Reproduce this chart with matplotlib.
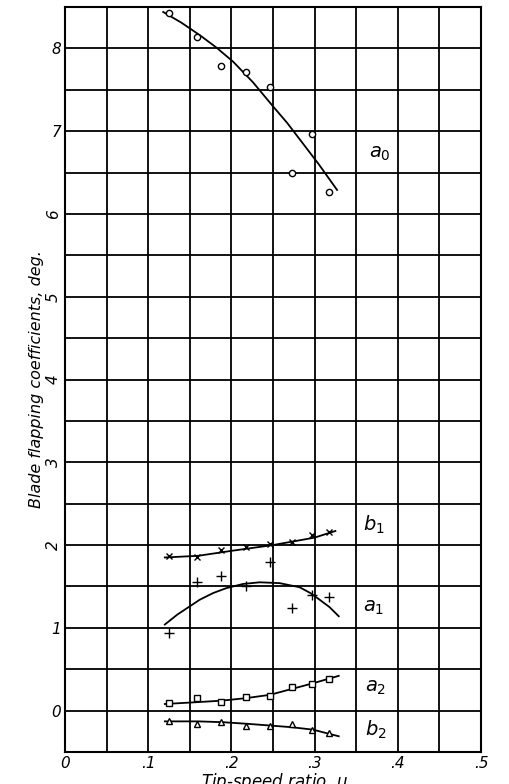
import matplotlib
matplotlib.use("Agg")
import matplotlib.pyplot as plt
import numpy as np

# Tip-speed ratio of test points
mu = [0.125, 0.159, 0.188, 0.217, 0.246, 0.273, 0.297, 0.317]

# Measured coefficients (deg)
a0_pts = [8.43, 8.14, 7.79, 7.71, 7.53, 6.50, 6.97, 6.27]
b1_pts = [1.87, 1.85, 1.94, 1.98, 2.01, 2.04, 2.12, 2.16]
a1_pts = [0.94, 1.55, 1.63, 1.50, 1.79, 1.24, 1.40, 1.37]
a2_pts = [0.09, 0.15, 0.11, 0.16, 0.18, 0.28, 0.32, 0.38]
b2_pts = [-0.13, -0.16, -0.14, -0.18, -0.18, -0.16, -0.24, -0.27]

# Faired curves
a0_cx = [0.118, 0.140, 0.162, 0.182, 0.202, 0.226, 0.250, 0.267, 0.283, 0.305, 0.327]
a0_cy = [8.44, 8.31, 8.16, 8.01, 7.84, 7.59, 7.30, 7.10, 6.89, 6.60, 6.29]
b1_cx = [0.120, 0.160, 0.200, 0.250, 0.300, 0.325]
b1_cy = [1.85, 1.87, 1.93, 2.00, 2.09, 2.17]
a1_cx = [0.120, 0.135, 0.150, 0.162, 0.178, 0.194, 0.214, 0.234, 0.258, 0.282, 0.295, 0.306, 0.318, 0.329]
a1_cy = [1.04, 1.16, 1.26, 1.34, 1.42, 1.48, 1.53, 1.55, 1.54, 1.49, 1.42, 1.34, 1.25, 1.14]
a2_cx = [0.120, 0.155, 0.188, 0.217, 0.246, 0.272, 0.298, 0.329]
a2_cy = [0.08, 0.10, 0.12, 0.15, 0.19, 0.26, 0.33, 0.42]
b2_cx = [0.120, 0.160, 0.190, 0.220, 0.246, 0.272, 0.298, 0.329]
b2_cy = [-0.13, -0.13, -0.14, -0.16, -0.18, -0.20, -0.23, -0.31]

x_ticks = [0, 0.1, 0.2, 0.3, 0.4, 0.5]
x_ticklabels = ["0", ".1", ".2", ".3", ".4", ".5"]
y_ticks = [0, 1, 2, 3, 4, 5, 6, 7, 8]

plt.rcParams['font.family'] = ['DejaVu Sans']

fig = plt.figure(figsize=(5.09, 7.84), dpi=100)
ax = fig.add_axes([65/509, 1-752/784, (481-65)/509, (752-7)/784])
ax.set_xlim(0, 0.5)
ax.set_ylim(-0.5, 8.5)

# grid
ax.set_xticks(np.arange(0.05, 0.5, 0.1), minor=True)
ax.set_yticks(np.arange(-0.5, 8.5001, 1.0), minor=True)
ax.set_xticks(x_ticks)
ax.set_xticklabels(x_ticklabels, fontstyle='italic', fontsize=11)
ax.set_yticks(y_ticks)
ax.set_yticklabels([str(v) for v in y_ticks], fontstyle='italic', fontsize=11)
ax.grid(True, which='both', color='black', linewidth=1.3)
for lab, v in zip(ax.get_yticklabels(), y_ticks):
    if 2 <= v <= 6:
        lab.set_rotation(90)
        lab.set_va('center')
ax.tick_params(which='both', length=0)
ax.tick_params(axis='y', pad=3)
ax.tick_params(axis='x', pad=3)
for s in ax.spines.values():
    s.set_linewidth(1.5)

lw = 1.3
ax.plot(a0_cx, a0_cy, color='black', lw=lw)
ax.plot(b1_cx, b1_cy, color='black', lw=lw)
ax.plot(a1_cx, a1_cy, color='black', lw=lw)
ax.plot(a2_cx, a2_cy, color='black', lw=lw)
ax.plot(b2_cx, b2_cy, color='black', lw=lw)

mk = dict(linestyle='none', color='black', markerfacecolor='white', markeredgewidth=1.0, zorder=3)
ax.plot(mu, a0_pts, marker='o', markersize=4.5, **mk)
ax.plot(mu, b1_pts, marker='x', markersize=5, **mk)
ax.plot(mu, a1_pts, marker='+', markersize=7, **mk)
ax.plot(mu, a2_pts, marker='s', markersize=4.5, **mk)
ax.plot(mu, b2_pts, marker='^', markersize=5, **mk)

lab_kw = dict(fontsize=14, ha='center', va='center', color='black')
ax.text(0.378, 6.73, r'$a_0$', **lab_kw)
ax.text(0.371, 2.24, r'$b_1$', **lab_kw)
ax.text(0.371, 1.24, r'$a_1$', **lab_kw)
ax.text(0.373, 0.28, r'$a_2$', **lab_kw)
ax.text(0.373, -0.23, r'$b_2$', **lab_kw)

ax.set_ylabel('Blade flapping coefficients, deg.', fontstyle='italic', fontsize=11.5)
ax.yaxis.set_label_coords(-0.05, 0.5)
fig.text(0.54, 1 - 771/784, r'Tip-speed ratio, $\mu$', fontstyle='italic', fontsize=12,
         ha='center', va='top')

fig.savefig('out.png', dpi=100)
